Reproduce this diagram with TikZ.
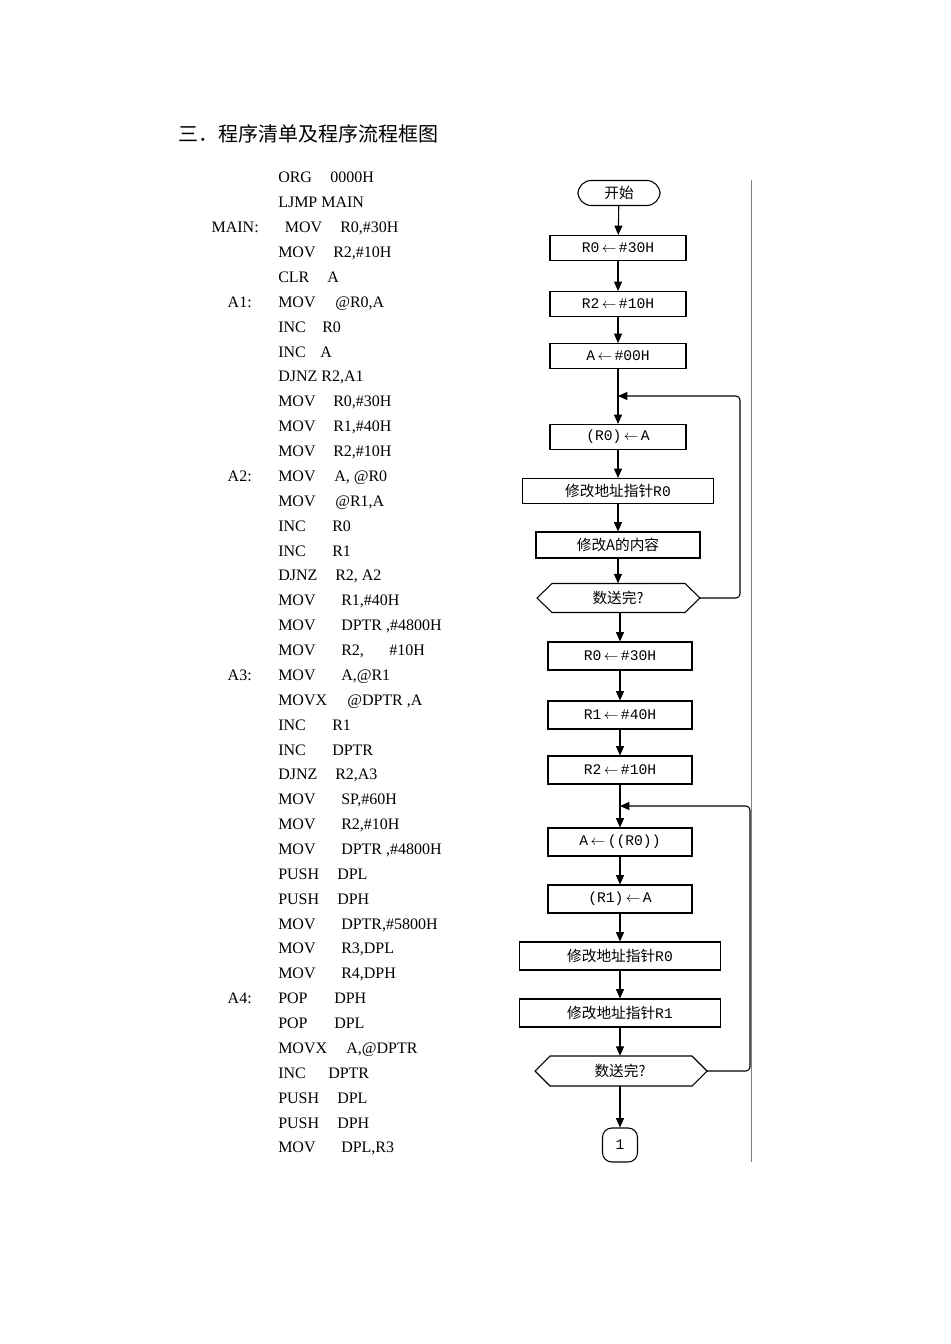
\documentclass[tikz,border=0pt]{standalone}
\usepackage{fontspec}
\setmainfont{Liberation Serif}
\newfontfamily\cjk{Noto Sans CJK SC}
\newfontfamily\fmono{Liberation Mono}
\usetikzlibrary{arrows.meta}
\newcommand\la{\,$\leftarrow$\,}
\newcommand\codeline[5]{%
  \node[code,anchor=base east] at (#2,#1) {#3};
  \node[code,anchor=base west] at (278,#1) {#4};
  \node[code,anchor=base west] at (#5) {};}
\begin{document}
\begin{tikzpicture}[x=0.75pt,y=-0.75pt,
  code/.style={inner sep=0pt,font=\fontsize{12}{12}\selectfont},
  box/.style={draw,line width=0.8pt,inner sep=0pt,font=\fmono\fontsize{11}{11}\selectfont},
  cbox/.style={draw,line width=0.8pt,inner sep=0pt,font=\cjk\fontsize{11}{11}\selectfont},
  arr/.style={-{Triangle[length=7pt,width=6pt]},line width=0.8pt},
  ln/.style={line width=0.8pt,rounded corners=3pt}]
\useasboundingbox (0,0) rectangle (950,1344);
\node[anchor=base west,inner sep=0pt,font=\cjk\fontsize{15}{15}\selectfont] at (178,142) {三．程序清单及程序流程框图};
% code
\foreach \lab/\mn/\ox/\op [count=\i from 0] in {
 /ORG/330/0000H, /LJMP MAIN/330/, MAIN:/{\hspace{5pt}MOV}/340/{R0,\#30H}, /MOV/333/{R2,\#10H}, /CLR/327/A,
 A1:/MOV/335/{@R0,A}, /INC/322/R0, /INC/320/A, /DJNZ R2{,}A1/330/, /MOV/333/{R0,\#30H},
 /MOV/333/{R1,\#40H}, /MOV/333/{R2,\#10H}, A2:/MOV/334/{A, @R0}, /MOV/335/{@R1,A}, /INC/332/R0,
 /INC/332/R1, /DJNZ/335/{R2, A2}, /MOV/341/{R1,\#40H}, /MOV/341/{DPTR ,\#4800H}, /MOV/341/{R2,\hspace{19pt}\#10H},
 A3:/MOV/341/{A,@R1}, /MOVX/347/{@DPTR ,A}, /INC/332/R1, /INC/332/DPTR, /DJNZ/335/{R2,A3},
 /MOV/341/{SP,\#60H}, /MOV/341/{R2,\#10H}, /MOV/341/{DPTR ,\#4800H}, /PUSH/337/DPL, /PUSH/337/DPH,
 /MOV/341/{DPTR,\#5800H}, /MOV/341/{R3,DPL}, /MOV/341/{R4,DPH}, A4:/POP/334/DPH, /POP/334/DPL,
 /MOVX/346/{A,@DPTR}, /INC/328/DPTR, /PUSH/337/DPL, /PUSH/337/DPH, /MOV/341/{DPL,R3}}
 { \pgfmathsetmacro\yy{183+24.87*\i}
   \ifnum\i=2 \def\lx{259}\else\def\lx{252}\fi
   \node[code,anchor=base east] at (\lx,\yy) {\lab};
   \node[code,anchor=base west] at (278,\yy) {\mn};
   \node[code,anchor=base west] at (\ox,\yy) {\op}; }
% side line
\draw[line width=0.6pt,gray] (751,180) -- (751,1162);
% flowchart upper
\node[cbox,rounded corners=10pt,minimum height=25*0.75pt,minimum width=82*0.75pt] (s) at (619,193) {开始};
\node[box,minimum width=136*0.75pt,minimum height=25*0.75pt] (b1) at (618,248) {R0\la\#30H};
\node[box,minimum width=136*0.75pt,minimum height=25*0.75pt] (b2) at (618,304) {R2\la\#10H};
\node[box,minimum width=136*0.75pt,minimum height=25*0.75pt] (b3) at (618,356) {A\la\#00H};
\coordinate (j1) at (618,396);
\node[box,minimum width=136*0.75pt,minimum height=25*0.75pt] (b4) at (618,437) {(R0)\la A};
\node[cbox,minimum width=191*0.75pt,minimum height=25*0.75pt] (b5) at (618,491) {修改地址指针\fmono R0};
\node[cbox,minimum width=164*0.75pt,minimum height=26*0.75pt] (b6) at (618,545) {修改A的内容};
\node[inner sep=0pt,minimum width=163*0.75pt,minimum height=29*0.75pt,font=\cjk\fontsize{11}{11}\selectfont] (d1) at (618,598) {数送完?};
\draw[line width=0.8pt] (537,598) -- (552,583.5) -- (685,583.5) -- (700,598) -- (685,612.5) -- (552,612.5) -- cycle;
\draw[arr] (s) -- (b1);
\draw[arr] (b1) -- (b2);
\draw[arr] (b2) -- (b3);
\draw[arr] (b3) -- (b4);
\draw[arr] (b4) -- (b5);
\draw[arr] (b5) -- (b6);
\draw[arr] (b6) -- (d1);
\draw[ln,arr] (d1.east) -- (740,598) -- (740,396) -- (j1);
% lower
\node[box,minimum width=144*0.75pt,minimum height=28*0.75pt] (c1) at (620,656) {R0\la\#30H};
\node[box,minimum width=144*0.75pt,minimum height=28*0.75pt] (c2) at (620,715) {R1\la\#40H};
\node[box,minimum width=144*0.75pt,minimum height=28*0.75pt] (c3) at (620,770) {R2\la\#10H};
\coordinate (j2) at (620,806);
\node[box,minimum width=144*0.75pt,minimum height=28*0.75pt] (c4) at (620,842) {A\la((R0))};
\node[box,minimum width=144*0.75pt,minimum height=28*0.75pt] (c5) at (620,899) {(R1)\la A};
\node[cbox,minimum width=201*0.75pt,minimum height=28*0.75pt] (c6) at (620,956) {修改地址指针\fmono R0};
\node[cbox,minimum width=201*0.75pt,minimum height=28*0.75pt] (c7) at (620,1013) {修改地址指针\fmono R1};
\node[inner sep=0pt,minimum width=172*0.75pt,minimum height=30*0.75pt,font=\cjk\fontsize{11}{11}\selectfont] (d2) at (620,1071) {数送完?};
\draw[line width=0.8pt] (535,1071) -- (550,1056) -- (692,1056) -- (707,1071) -- (692,1086) -- (550,1086) -- cycle;
\node[box,rounded corners=7pt,minimum width=35*0.75pt,minimum height=34*0.75pt] (e) at (620,1145) {1};
\draw[arr] (d1.south -| c1.north) -- (c1);
\draw[arr] (c1) -- (c2);
\draw[arr] (c2) -- (c3);
\draw[arr] (c3) -- (c4);
\draw[arr] (c4) -- (c5);
\draw[arr] (c5) -- (c6);
\draw[arr] (c6) -- (c7);
\draw[arr] (c7) -- (d2);
\draw[arr] (d2) -- (e);
\draw[ln,arr] (d2.east) -- (750,1071) -- (750,806) -- (j2);
\end{tikzpicture}
\end{document}
